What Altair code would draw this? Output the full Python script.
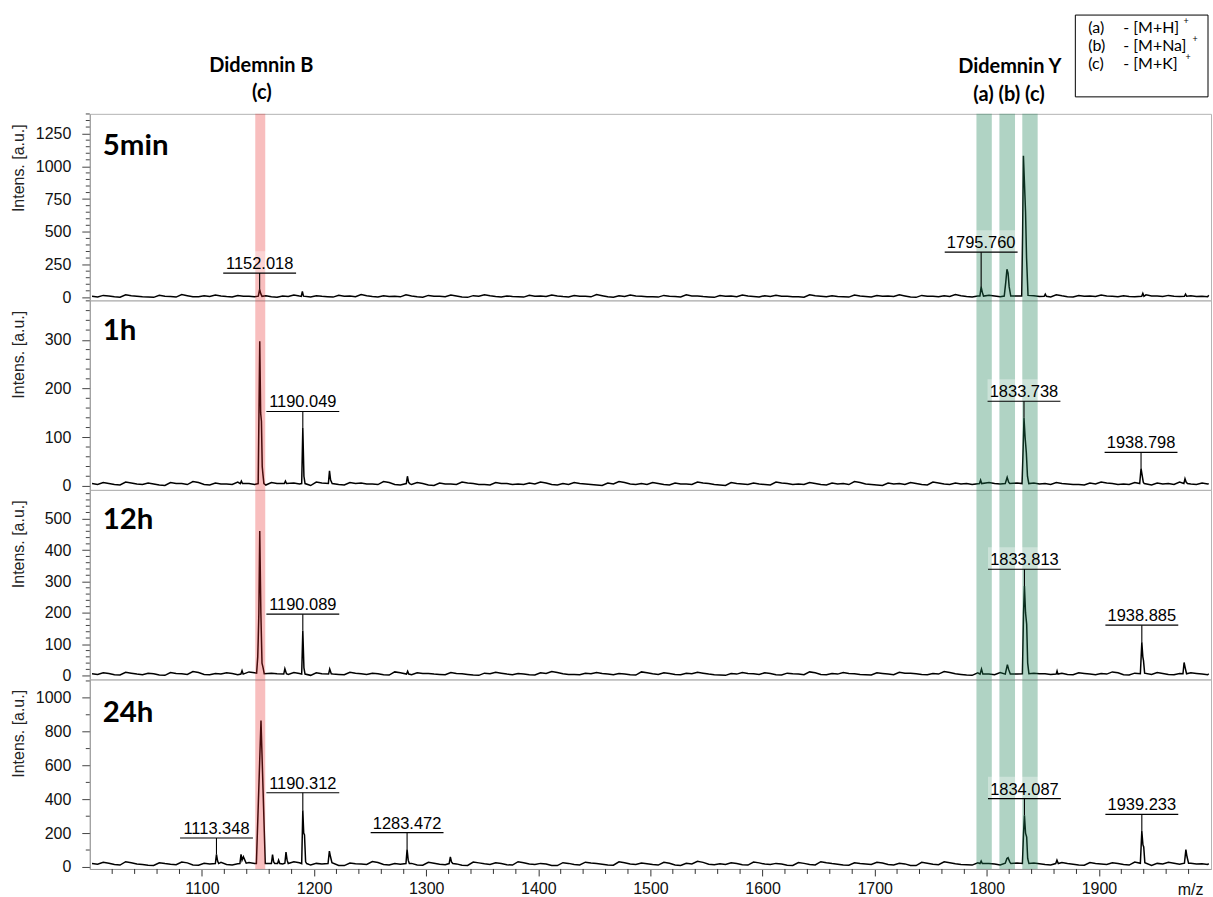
import altair as alt
import pandas as pd

# ---------------- data ----------------
MZ_DOMAIN = [1000, 2000]
PLOT_W = 1124
PANEL_H = [187, 190, 190, 190]
PANEL_NAMES = ["5min", "1h", "12h", "24h"]
PANEL_LABEL_Y = [32, 31, 30, 34]
Y_DOMAINS = [[-23, 1401], [-8, 381], [-12, 592], [-12, 1109]]
Y_TICKS = [
    [0, 250, 500, 750, 1000, 1250],
    [0, 100, 200, 300],
    [0, 100, 200, 300, 400, 500],
    [0, 200, 400, 600, 800, 1000],
]
Y_MINOR_STEP = [50, 20, 20, 100]
X_TICKS = [1100, 1200, 1300, 1400, 1500, 1600, 1700, 1800, 1900]
X_MINOR_STEP = 20

# baseline sampling grid (m/z) and baseline intensities read per panel
BASE_MZ = list(range(1002, 2000, 10)) + [1998]
MID_MZ = list(range(1007, 2000, 10))
NOISE_5MIN = [8, 15, 4, 19, 9, 3, 16, 7, 21, 5, 12, 17, 6, 14, 9, 20, 4, 11, 18, 7,
              13, 5, 16, 10, 22, 6, 12, 8, 19, 4, 15, 9, 17, 3, 13, 20, 7, 11, 5, 16,
              10, 18, 6, 14, 8, 21, 4, 12, 17, 9, 5, 15, 7, 19, 11, 3, 14, 10, 18, 6,
              13, 16, 8, 4, 20, 9, 12, 5, 17, 7, 14, 11, 19, 3, 15, 8, 13, 21, 6, 10,
              16, 4, 18, 9, 12, 7, 20, 5, 14, 11, 17, 8, 13, 4, 19, 10, 15, 6, 12, 9, 16]
MID_5MIN = [3, 10, 1, 12, 5, 0, 9, 2, 13, 4, 7, 11, 2, 8, 5, 12, 1, 6, 10, 3,
            8, 2, 9, 5, 13, 3, 7, 4, 11, 1, 9, 5, 10, 0, 8, 12, 3, 6, 2, 9,
            6, 11, 3, 8, 4, 13, 1, 7, 10, 5, 2, 9, 3, 11, 6, 0, 8, 5, 10, 2,
            7, 9, 4, 1, 12, 5, 7, 2, 10, 3, 8, 6, 11, 0, 9, 4, 7, 13, 2, 6,
            10, 1, 11, 5, 7, 3, 12, 2, 8, 6, 10, 4, 7, 1, 11, 6, 9, 2, 7, 5]
NOISE_1H = [5, 7, 3, 8, 4, 6, 2, 7, 5, 9, 3, 6, 4, 8, 5, 3, 7, 4, 6, 2,
            8, 5, 3, 7, 6, 4, 9, 3, 5, 7, 2, 6, 4, 8, 5, 3, 7, 5, 4, 6,
            8, 3, 5, 7, 4, 2, 6, 9, 4, 5, 7, 3, 6, 4, 8, 5, 2, 7, 4, 6,
            3, 8, 5, 4, 7, 3, 6, 5, 9, 4, 2, 6, 5, 7, 3, 8, 4, 6, 5, 3,
            7, 4, 8, 2, 6, 5, 7, 4, 3, 6, 8, 5, 4, 7, 3, 6, 5, 8, 4, 6, 5]
MID_1H = [3, 5, 2, 6, 3, 4, 1, 5, 3, 7, 2, 4, 3, 6, 3, 2, 5, 3, 4, 1,
          6, 3, 2, 5, 4, 3, 7, 2, 3, 5, 1, 4, 3, 6, 3, 2, 5, 3, 3, 4,
          6, 2, 3, 5, 3, 1, 4, 7, 3, 3, 5, 2, 4, 3, 6, 3, 1, 5, 3, 4,
          2, 6, 3, 3, 5, 2, 4, 3, 7, 3, 1, 4, 3, 5, 2, 6, 3, 4, 3, 2,
          5, 3, 6, 1, 4, 3, 5, 3, 2, 4, 6, 3, 3, 5, 2, 4, 3, 6, 3, 4]
NOISE_12H = [6, 9, 3, 11, 5, 8, 2, 10, 6, 13, 4, 7, 9, 3, 12, 5, 8, 6, 10, 2,
             9, 7, 4, 11, 6, 8, 3, 12, 5, 9, 7, 4, 10, 6, 2, 8, 11, 5, 7, 3,
             9, 13, 6, 4, 8, 10, 5, 7, 3, 12, 6, 9, 4, 8, 11, 5, 2, 7, 10, 6,
             9, 3, 8, 5, 12, 4, 7, 10, 6, 3, 9, 5, 11, 8, 4, 7, 13, 6, 2, 9,
             5, 10, 7, 3, 8, 6, 11, 4, 9, 5, 7, 12, 3, 8, 6, 10, 4, 7, 9, 5, 6]
MID_12H = [4, 7, 2, 8, 3, 6, 1, 7, 4, 10, 3, 5, 7, 2, 9, 3, 6, 4, 7, 1,
           6, 5, 3, 8, 4, 6, 2, 9, 3, 7, 5, 3, 7, 4, 1, 6, 8, 3, 5, 2,
           7, 10, 4, 3, 6, 7, 3, 5, 2, 9, 4, 7, 3, 6, 8, 3, 1, 5, 7, 4,
           7, 2, 6, 3, 9, 3, 5, 7, 4, 2, 7, 3, 8, 6, 3, 5, 10, 4, 1, 7,
           3, 7, 5, 2, 6, 4, 8, 3, 7, 3, 5, 9, 2, 6, 4, 7, 3, 5, 7, 3]
NOISE_24H = [20, 27, 14, 31, 18, 10, 25, 16, 29, 12, 22, 33, 15, 19, 26, 11, 24, 17, 30, 13,
             21, 28, 9, 23, 18, 32, 14, 20, 26, 12, 27, 16, 22, 10, 29, 19, 24, 13, 31, 17,
             21, 8, 25, 15, 28, 20, 12, 30, 18, 23, 14, 27, 11, 22, 33, 16, 19, 25, 13, 29,
             17, 21, 10, 26, 15, 31, 20, 12, 24, 18, 28, 14, 22, 9, 27, 16, 30, 19, 13, 25,
             21, 11, 28, 17, 23, 15, 32, 20, 12, 26, 18, 24, 14, 29, 10, 21, 27, 16, 22, 19, 20]
MID_24H = [16, 22, 11, 25, 14, 9, 20, 13, 24, 10, 18, 27, 12, 15, 21, 9, 19, 14, 25, 11,
           17, 23, 8, 19, 15, 26, 11, 16, 21, 10, 22, 13, 18, 9, 24, 15, 20, 11, 25, 14,
           17, 8, 21, 12, 23, 16, 10, 25, 15, 19, 11, 22, 9, 18, 27, 13, 15, 20, 11, 24,
           14, 17, 9, 21, 12, 25, 16, 10, 20, 15, 23, 11, 18, 8, 22, 13, 25, 15, 11, 20,
           17, 9, 23, 14, 19, 12, 26, 16, 10, 21, 15, 20, 11, 24, 9, 17, 22, 13, 18, 15]
NOISE = [NOISE_5MIN, NOISE_1H, NOISE_12H, NOISE_24H]
MID_NOISE = [MID_5MIN, MID_1H, MID_12H, MID_24H]

# peak profiles (m/z, intensity)
PEAKS_5MIN = [
    [(1150.3, 9), (1151.5, 60), (1152.5, 28), (1153.6, 8)],
    [(1188.6, 8), (1189.6, 45), (1190.6, 9)],
    [(1793.9, 10), (1795.0, 80), (1796.0, 40), (1797.1, 10)],
    [(1815.6, 10), (1817.0, 120), (1818.0, 215), (1819.0, 185), (1820.0, 80), (1821.4, 10)],
    [(1831.2, 10), (1832.0, 500), (1832.7, 1080), (1833.5, 900), (1834.6, 650), (1835.5, 300), (1836.8, 15)],
    [(1851.2, 8), (1852.2, 25), (1853.2, 8)],
    [(1938.2, 8), (1939.2, 30), (1940.2, 8)],
    [(1976.3, 8), (1977.3, 25), (1978.3, 8)],
]
PEAKS_1H = [
    [(1134.2, 5), (1135.2, 10), (1136.2, 5)],
    [(1150.2, 5), (1151.6, 297), (1152.4, 150), (1153.1, 133), (1153.8, 40), (1154.4, 25), (1155.3, 5)],
    [(1173.5, 5), (1174.5, 10), (1175.5, 5)],
    [(1189.0, 5), (1190.0, 119), (1191.0, 20), (1192.0, 5)],
    [(1212.8, 5), (1213.8, 31), (1214.8, 12), (1216.2, 5)],
    [(1282.3, 5), (1283.3, 20), (1284.3, 8), (1285.3, 5)],
    [(1793.5, 5), (1794.5, 12), (1795.5, 5)],
    [(1816.5, 5), (1818.2, 18), (1819.5, 8), (1820.5, 5)],
    [(1831.5, 5), (1832.5, 80), (1833.2, 140), (1834.2, 100), (1835.3, 68), (1836.3, 20), (1837.5, 5)],
    [(1936.4, 5), (1937.6, 36), (1938.6, 22), (1939.6, 8), (1940.5, 5)],
    [(1975.8, 5), (1976.8, 15), (1977.8, 8), (1979.0, 5)],
]
PEAKS_12H = [
    [(1134.8, 5), (1135.8, 16), (1136.8, 5)],
    [(1148.8, 8), (1149.8, 60), (1150.2, 111), (1150.8, 200), (1151.6, 461), (1152.6, 200),
     (1153.6, 40), (1154.6, 25), (1155.6, 6)],
    [(1173.0, 5), (1174.0, 22), (1175.4, 6)],
    [(1189.0, 5), (1190.0, 143), (1191.0, 25), (1192.0, 5)],
    [(1213.0, 5), (1214.0, 21), (1215.4, 6)],
    [(1282.5, 5), (1283.5, 14), (1284.5, 5)],
    [(1794.0, 5), (1795.3, 21), (1796.5, 5)],
    [(1816.5, 5), (1818.4, 35), (1819.5, 20), (1821.0, 5)],
    [(1831.8, 6), (1832.8, 200), (1833.6, 286), (1834.6, 200), (1835.6, 164), (1836.5, 40), (1837.6, 6)],
    [(1861.9, 5), (1862.7, 15), (1863.5, 5)],
    [(1937.0, 6), (1938.3, 106), (1939.2, 60), (1939.8, 48), (1940.8, 8)],
    [(1975.0, 6), (1976.0, 42), (1977.0, 25), (1978.2, 6)],
]
PEAKS_24H = [
    [(1112.0, 20), (1113.0, 75), (1114.0, 35), (1115.0, 20)],
    [(1133.9, 20), (1134.9, 75), (1135.8, 40), (1137.0, 60), (1138.0, 45), (1139.5, 22)],
    [(1148.6, 20), (1152.7, 866), (1156.5, 20)],
    [(1162.0, 20), (1163.0, 73), (1164.0, 30), (1165.0, 20)],
    [(1167.5, 20), (1168.4, 40), (1169.5, 20)],
    [(1174.0, 22), (1175.0, 88), (1176.0, 40), (1177.0, 20)],
    [(1189.0, 20), (1190.0, 335), (1190.8, 200), (1191.5, 190), (1192.5, 30), (1193.5, 20)],
    [(1212.5, 20), (1213.7, 94), (1214.7, 60), (1216.0, 25)],
    [(1282.0, 20), (1283.0, 104), (1284.0, 40), (1285.0, 20)],
    [(1320.5, 20), (1321.6, 60), (1322.6, 30), (1323.8, 20)],
    [(1794.0, 20), (1795.0, 35), (1796.0, 20)],
    [(1816.5, 22), (1818.0, 50), (1819.0, 55), (1820.5, 30), (1821.5, 20)],
    [(1831.8, 20), (1832.8, 200), (1833.6, 305), (1834.6, 200), (1835.6, 177), (1836.5, 50), (1837.6, 20)],
    [(1861.5, 20), (1862.6, 40), (1863.8, 20)],
    [(1937.0, 22), (1938.3, 212), (1939.3, 130), (1940.0, 118), (1941.0, 25)],
    [(1976.3, 22), (1977.6, 103), (1978.6, 60), (1980.0, 22)],
]
PEAKS = [PEAKS_5MIN, PEAKS_1H, PEAKS_12H, PEAKS_24H]

# peak labels: (text, m/z position, peak top, label line level)
ANNOT = [
    [("1152.018", 1151.5, 60, 185), ("1795.760", 1795.0, 80, 345)],
    [("1190.049", 1190.0, 119, 153), ("1833.738", 1833.2, 140, 174), ("1938.798", 1937.6, 36, 69)],
    [("1190.089", 1190.0, 143, 196), ("1833.813", 1833.6, 286, 339), ("1938.885", 1938.3, 106, 161)],
    [("1113.348", 1113.0, 75, 171), ("1190.312", 1190.0, 335, 439), ("1283.472", 1283.0, 104, 203),
     ("1834.087", 1833.6, 305, 404), ("1939.233", 1938.3, 212, 311)],
]
ANNOT_HALF = 32.5

# highlighted m/z windows
BAND_START = [1147.6, 1790.8, 1811.3, 1831.7]
BAND_END = [1156.5, 1804.5, 1825.2, 1845.4]
BAND_COLOR = ["#e82828", "#1e8255", "#1e8255", "#1e8255"]
BAND_OPACITY = [0.3, 0.35, 0.35, 0.35]

TITLE_TEXT = ["Didemnin B", "(c)", "Didemnin Y", "(a) (b) (c)"]
TITLE_MZ = [1153.0, 1153.5, 1820.5, 1819.8]
TITLE_Y = [-48, -21, -47, -19]

LEGEND_KEY = ["(a)", "(b)", "(c)"]
LEGEND_LABEL = ["- [M+H]", "- [M+Na]", "- [M+K]"]
LEGEND_ROW_Y = [-86.5, -68.2, -50]
LEGEND_SUP_X = [1099, 1108, 1101]

AX_FONT = "Liberation Sans"
CAL_FONT = "Lato"

# ---------------- chart ----------------
one = pd.DataFrame({"a": [0]})


def spectrum_df(i):
    spans = [(min(p[0] for p in pk), max(p[0] for p in pk)) for pk in PEAKS[i]]
    pts = []
    base = list(zip(BASE_MZ, NOISE[i])) + list(zip(MID_MZ, MID_NOISE[i]))
    for mz, v in base:
        if any(lo - 1.5 <= mz <= hi + 1.5 for lo, hi in spans):
            continue
        pts.append((mz, v))
    for pk in PEAKS[i]:
        pts.extend(pk)
    pts.sort()
    return pd.DataFrame(pts, columns=["mz", "intensity"])


band_df = pd.DataFrame({"start": BAND_START, "end": BAND_END,
                        "color": BAND_COLOR, "opacity": BAND_OPACITY})


def panel(i):
    H = PANEL_H[i]
    last = i == len(PANEL_NAMES) - 1
    xscale = alt.Scale(domain=MZ_DOMAIN, nice=False, zero=False)
    yscale = alt.Scale(domain=Y_DOMAINS[i], nice=False, zero=False)
    if last:
        xaxis = alt.Axis(values=X_TICKS, format="d", tickSize=7, labelPadding=5,
                         labelFont=AX_FONT, labelFontSize=16, labelColor="#111111",
                         domainColor="#9a9a9a", tickColor="#333333", grid=False,
                         title="m/z", titleX=1103, titleY=21, titleAlign="center",
                         titleBaseline="middle", titleFont=AX_FONT, titleFontSize=16,
                         titleFontWeight="normal", titleColor="#111111")
    else:
        xaxis = None
    yaxis = alt.Axis(values=Y_TICKS[i], format="d", tickSize=8, labelPadding=11,
                     labelFont=AX_FONT, labelFontSize=16, labelColor="#111111",
                     domainColor="#9a9a9a", tickColor="#444444", grid=False,
                     title="Intens. [a.u.]", titleX=-71, titleY=54, titleAngle=270,
                     titleAlign="center", titleBaseline="middle", titleFont=AX_FONT,
                     titleFontSize=16, titleFontWeight="normal", titleColor="#222222")

    def X(f):
        return alt.X(f, type="quantitative", scale=xscale, axis=xaxis)

    def Y(f):
        return alt.Y(f, type="quantitative", scale=yscale, axis=yaxis)

    layers = []
    layers.append(alt.Chart(spectrum_df(i)).mark_line(color="black", strokeWidth=1.5)
                  .encode(x=X("mz"), y=Y("intensity")))
    layers.append(alt.Chart(band_df).mark_rect().encode(
        x=X("start"), x2="end", y=alt.value(0), y2=alt.value(H),
        color=alt.Color("color:N", scale=None),
        opacity=alt.Opacity("opacity:Q", scale=None)))

    ann = pd.DataFrame(ANNOT[i], columns=["label", "mz", "peak", "level"])
    ann["lo"] = ann["mz"] - ANNOT_HALF
    ann["hi"] = ann["mz"] + ANNOT_HALF
    layers.append(alt.Chart(ann).mark_rect(color="white", opacity=0.35, y2Offset=-22)
                  .encode(x=X("lo"), x2="hi", y=Y("level"), y2="level"))
    layers.append(alt.Chart(ann).mark_rule(color="black", strokeWidth=1.1)
                  .encode(x=X("lo"), x2="hi", y=Y("level")))
    layers.append(alt.Chart(ann).mark_rule(color="black", strokeWidth=1.1)
                  .encode(x=X("mz"), y=Y("peak"), y2="level"))
    layers.append(alt.Chart(ann).mark_text(font=AX_FONT, fontSize=16.5, dy=-4,
                                           baseline="alphabetic", align="center",
                                           color="black")
                  .encode(x=X("mz"), y=Y("level"), text="label:N"))

    layers.append(alt.Chart(one).mark_text(text=PANEL_NAMES[i], font=CAL_FONT,
                                           fontWeight="bold", fontSize=29.5,
                                           align="left", baseline="middle",
                                           color="black")
                  .encode(x=alt.value(13), y=alt.value(PANEL_LABEL_Y[i])))

    step = Y_MINOR_STEP[i]
    big = Y_TICKS[i][1] - Y_TICKS[i][0]
    minor = [v for v in range(step, int(Y_DOMAINS[i][1]) + 1, step) if v % big != 0]
    layers.append(alt.Chart(pd.DataFrame({"v": minor})).mark_rule(color="#444444", strokeWidth=1)
                  .encode(y=Y("v"), x=alt.value(-4), x2=alt.value(0)))

    if i == 0:
        layers.append(alt.Chart(one).mark_rect(opacity=0).encode(
            x=alt.value(-89), x2=alt.value(-88), y=alt.value(-112), y2=alt.value(-111)))
        for t, mz, yy in zip(TITLE_TEXT, TITLE_MZ, TITLE_Y):
            layers.append(alt.Chart(pd.DataFrame({"mz": [mz]})).mark_text(
                text=t, font=CAL_FONT, fontWeight="bold", fontSize=20,
                align="center", baseline="middle", color="black")
                .encode(x=X("mz"), y=alt.value(yy)))
        layers.append(alt.Chart(one).mark_rect(fill="white", stroke="black", strokeWidth=1)
                      .encode(x=alt.value(988), x2=alt.value(1121),
                              y=alt.value(-99), y2=alt.value(-17)))
        for k, lab, ry, sx in zip(LEGEND_KEY, LEGEND_LABEL, LEGEND_ROW_Y, LEGEND_SUP_X):
            layers.append(alt.Chart(one).mark_text(text=k, font=CAL_FONT, fontSize=16,
                                                   align="left", baseline="middle",
                                                   color="black")
                          .encode(x=alt.value(1001), y=alt.value(ry)))
            layers.append(alt.Chart(one).mark_text(text=lab, font=CAL_FONT, fontSize=16,
                                                   align="left", baseline="middle",
                                                   color="black")
                          .encode(x=alt.value(1036), y=alt.value(ry)))
            layers.append(alt.Chart(one).mark_text(text="+", font=CAL_FONT, fontSize=9,
                                                   align="center", baseline="middle",
                                                   color="black")
                          .encode(x=alt.value(sx), y=alt.value(ry - 7)))

    if last:
        xminor = [v for v in range(MZ_DOMAIN[0] + X_MINOR_STEP, MZ_DOMAIN[1], X_MINOR_STEP)
                  if v % 100 != 0]
        layers.append(alt.Chart(pd.DataFrame({"v": xminor})).mark_rule(color="#333333", strokeWidth=1)
                      .encode(x=X("v"), y=alt.value(H), y2=alt.value(H + 5)))

    return alt.layer(*layers).properties(width=PLOT_W, height=H)


chart = alt.vconcat(*[panel(i) for i in range(4)], spacing=0, bounds="flush", padding=0)
chart = chart.resolve_scale(x="independent", y="independent").configure_view(
    stroke="#b4b4b4", strokeWidth=1)

chart.save("out.html", embed_options={"renderer": "svg", "actions": False})
